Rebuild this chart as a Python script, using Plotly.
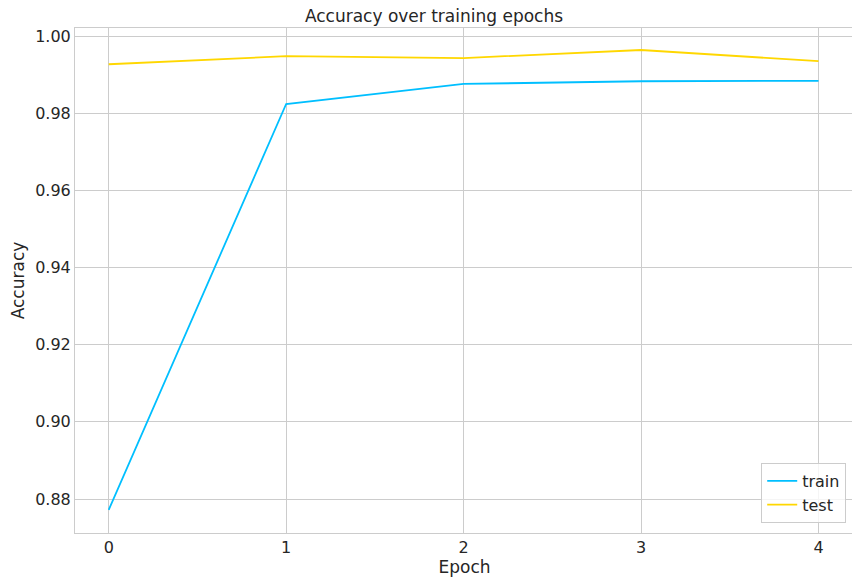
import plotly.graph_objs as go

epochs = [0, 1, 2, 3, 4]
train_acc = [0.8772, 0.9824, 0.9876, 0.9883, 0.9884]
test_acc = [0.9927, 0.9948, 0.9943, 0.9964, 0.9935]

fig = go.Figure()
fig.add_trace(go.Scatter(x=epochs, y=train_acc, mode='lines', name='train',
                         line=dict(color='#00BFFF', width=1.8)))
fig.add_trace(go.Scatter(x=epochs, y=test_acc, mode='lines', name='test',
                         line=dict(color='#FFD700', width=1.8)))

axis = dict(showgrid=True, gridcolor='#cccccc', gridwidth=1, showline=True,
            linecolor='#cccccc', mirror=True, zeroline=False, ticks='',
            tickfont=dict(size=16, color='#262626'))

fig.update_layout(
    width=852, height=580, autosize=False,
    margin=dict(l=67, r=6, t=20, b=55),
    paper_bgcolor='white', plot_bgcolor='white',
    font=dict(family='DejaVu Sans', color='#262626'),
    title=dict(text='Accuracy over training epochs', x=0.5, xanchor='center',
               y=0.997, yanchor='top', font=dict(size=17)),
    xaxis=dict(axis, range=[-0.19, 4.2], tickvals=epochs,
               title=dict(text='Epoch', font=dict(size=17), standoff=4)),
    yaxis=dict(axis, range=[0.8712, 1.0021], dtick=0.02, tickformat='.2f',
               title=dict(text='Accuracy', font=dict(size=17), standoff=6)),
    legend=dict(x=0.99, y=0.02, xanchor='right', yanchor='bottom',
                bgcolor='rgba(255,255,255,0.8)', bordercolor='#cccccc',
                borderwidth=1, font=dict(size=16)),
)

fig.write_html("out.html")
